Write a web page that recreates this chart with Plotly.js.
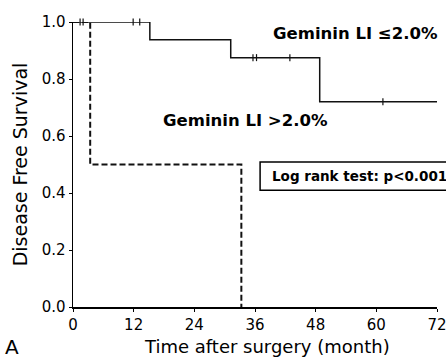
<!DOCTYPE html>
<html><head><meta charset="utf-8">
<script src="https://cdn.plot.ly/plotly-3.0.1.min.js"></script>
<style>body{margin:0;background:#fff}</style>
</head><body>
<div id="chart" style="width:446px;height:359px"></div>
<script>
// Kaplan-Meier: Geminin LI <=2.0%
const lowTime = [0, 15.2, 31.2, 48.8, 72];
const lowSurv = [1.0, 0.9375, 0.875, 0.72, 0.72];
const lowCensorTime = [1.4, 2.0, 11.9, 13.2, 35.6, 36.3, 42.9, 61.3];
const lowCensorSurv = [1.0, 1.0, 1.0, 1.0, 0.875, 0.875, 0.875, 0.72];
// Kaplan-Meier: Geminin LI >2.0%
const highTime = [0, 3.4, 33.3, 33.3];
const highSurv = [1.0, 0.5, 0.5, 0.0];
const xTicks = [0, 12, 24, 36, 48, 60, 72];
const yTicks = [0, 0.2, 0.4, 0.6, 0.8, 1.0];
const yTickText = ['0.0', '0.2', '0.4', '0.6', '0.8', '1.0'];

const F = 'DejaVu Sans, sans-serif';
const traces = [
  {x: highTime, y: highSurv, mode: 'lines', line: {shape: 'hv', color: '#111', width: 2, dash: '6px,3px'}, cliponaxis: false},
  {x: lowTime, y: lowSurv, mode: 'lines', line: {shape: 'hv', color: '#111', width: 1.5}, cliponaxis: false},
  {x: lowCensorTime, y: lowCensorSurv, mode: 'markers', marker: {symbol: 'line-ns', size: 5, line: {color: '#111', width: 1.2}}, cliponaxis: false}
];
const layout = {
  width: 446, height: 359, showlegend: false,
  margin: {l: 73, r: 9, t: 22, b: 52},
  paper_bgcolor: '#fff', plot_bgcolor: '#fff',
  font: {family: F, color: '#000'},
  xaxis: {range: [0, 72], tickvals: xTicks, ticktext: xTicks.map(String), showgrid: false, zeroline: false,
    showline: true, linecolor: '#000', linewidth: 1.5, ticks: 'outside', ticklen: 3, tickcolor: '#000',
    tickfont: {size: 15, family: F}, ticklabeloverflow: 'allow'},
  yaxis: {range: [0, 1], tickvals: yTicks, ticktext: yTickText, showgrid: false, zeroline: false,
    showline: true, linecolor: '#000', linewidth: 1.5, ticks: 'outside', ticklen: 3, tickcolor: '#000',
    tickfont: {size: 15, family: F}, ticklabeloverflow: 'allow'},
  shapes: [
    {type: 'rect', xref: 'paper', yref: 'paper', x0: 0.514, x1: 1.2, y0: 0.41, y1: 0.509, line: {color: '#000', width: 1.5}}
  ],
  annotations: [
    {text: 'Geminin LI ≤2.0%', xref: 'paper', yref: 'paper', x: 0.543, y: 0.961, xanchor: 'left', yanchor: 'middle', showarrow: false, font: {size: 16.5, family: F, weight: 'bold'}},
    {text: 'Geminin LI >2.0%', xref: 'paper', yref: 'paper', x: 0.242, y: 0.653, xanchor: 'left', yanchor: 'middle', showarrow: false, font: {size: 16.5, family: F, weight: 'bold'}},
    {text: 'Log rank test: p<0.001', xref: 'paper', yref: 'paper', x: 0.54, y: 0.46, xanchor: 'left', yanchor: 'middle', showarrow: false, font: {size: 13.5, family: F, weight: 'bold'}},
    {text: 'Disease Free Survival', xref: 'paper', yref: 'paper', x: -0.146, y: 0.5, textangle: -90, xanchor: 'center', yanchor: 'middle', showarrow: false, font: {size: 19, family: F}},
    {text: 'Time after surgery (month)', xref: 'paper', yref: 'paper', x: 0.532, y: -0.137, xanchor: 'center', yanchor: 'middle', showarrow: false, font: {size: 18, family: F}},
    {text: 'A', xref: 'paper', yref: 'paper', x: -0.168, y: -0.14, xanchor: 'center', yanchor: 'middle', showarrow: false, font: {size: 20, family: F}}
  ]
};
Plotly.newPlot('chart', traces, layout, {staticPlot: true});
</script>
</body></html>
